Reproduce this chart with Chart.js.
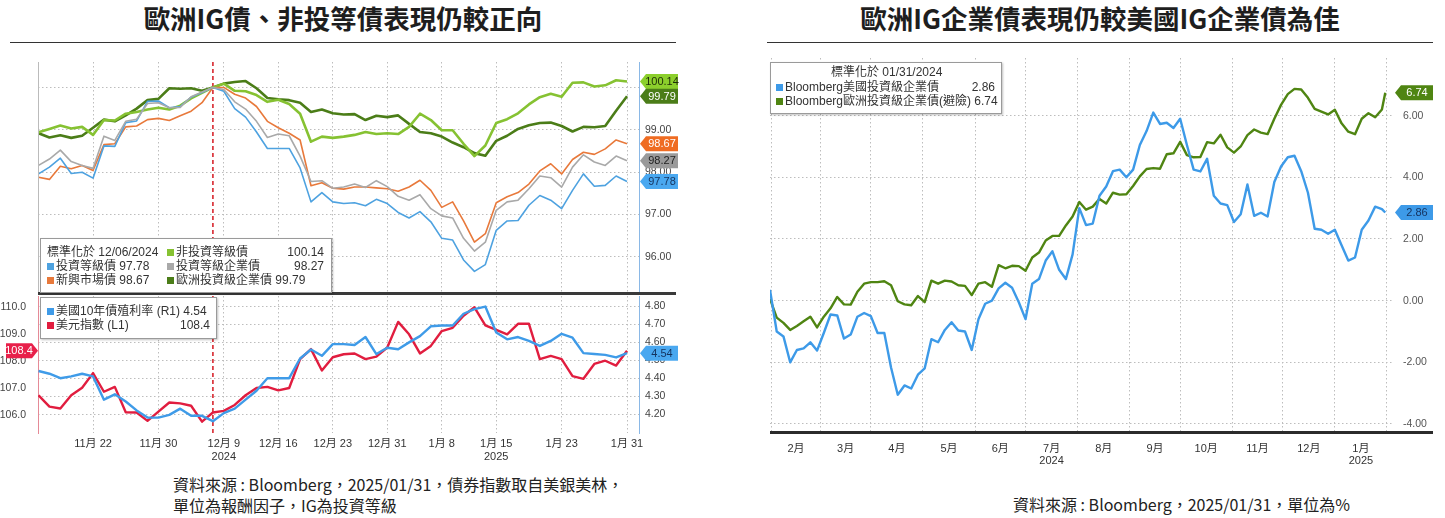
<!DOCTYPE html>
<html lang="zh-Hant">
<head>
<meta charset="utf-8">
<title>歐洲IG債表現</title>
<script src="https://cdn.jsdelivr.net/npm/chart.js@4.4.1/dist/chart.umd.min.js"></script>
<style>
  body { margin: 0; width: 1445px; height: 518px; background: #fff; position: relative; overflow: hidden;
         font-family: "Noto Sans CJK TC", "Noto Sans", sans-serif; color: #222; }
  .abs { position: absolute; }
  .title { top: 1px; font-size: 26.5px; font-weight: bold; text-align: center; line-height: 34px; color: #1e1e1e; }
  .rule { top: 42px; height: 1px; background: #333; }
  .note { font-size: 16px; line-height: 21px; white-space: nowrap; color: #222; }
  .legend { background: #fff; border: 1px solid #9a9a9a; box-shadow: 1px 1px 2px rgba(0,0,0,.25);
            font-family: "Liberation Sans", "Noto Sans CJK TC", sans-serif; font-size: 12px; color: #333; }
  .legend span { position: absolute; white-space: nowrap; line-height: 13px; }
  .sq { display: inline-block; width: 7px; height: 7px; margin-right: 2px; }
</style>
</head>
<body>
<div class="abs title" style="left:10px;width:666px">歐洲IG債、非投等債表現仍較正向</div>
<div class="abs rule" style="left:10px;width:666px"></div>
<div class="abs title" style="left:767px;width:666px">歐洲IG企業債表現仍較美國IG企業債為佳</div>
<div class="abs rule" style="left:767px;width:666px"></div>

<canvas id="cTop" class="abs" width="690" height="240" style="left:0;top:56px"></canvas>
<canvas id="cBottom" class="abs" width="690" height="170" style="left:0;top:295px"></canvas>
<canvas id="cRight" class="abs" width="685" height="415" style="left:760px;top:50px"></canvas>

<div class="abs" style="left:38px;top:62px;width:1px;height:231px;background:#bbb"></div>
<div class="abs" style="left:38px;top:292px;width:638px;height:3px;background:#3a3a3a"></div>
<div class="abs" style="left:770px;top:431px;width:663px;height:3px;background:#2b2b2b"></div>

<div id="lgTop" class="abs legend" style="left:40px;top:238px;width:290px;height:53px"></div>
<div id="lgBottom" class="abs legend" style="left:40px;top:297px;width:175px;height:40px"></div>
<div id="lgRight" class="abs legend" style="left:770px;top:62px;width:230px;height:50px"></div>

<div class="abs note" style="left:173px;top:474px">資料來源 : Bloomberg，2025/01/31，債券指數取自美銀美林，<br>單位為報酬因子，IG為投資等級</div>
<div class="abs note" style="left:1013px;top:494px">資料來源 : Bloomberg，2025/01/31，單位為%</div>

<script>
// ---------- left panel: business days 2024/11/14 – 2025/01/31 ----------
const leftDates = ['11/14','11/15','11/18','11/19','11/20','11/21','11/22','11/25','11/26','11/27','11/28','11/29',
  '12/02','12/03','12/04','12/05','12/06','12/09','12/10','12/11','12/12','12/13','12/16','12/17','12/18','12/19','12/20',
  '12/23','12/24','12/26','12/27','12/30','12/31','01/02','01/03','01/06','01/07','01/08','01/09','01/10',
  '01/13','01/14','01/15','01/16','01/17','01/20','01/21','01/22','01/23','01/24','01/27','01/28','01/29','01/30','01/31'];
const normDate = '12/06';

// normalised to 100 on 12/06/2024
const hyBond = [98.94,99.02,99.10,99.03,99.07,98.88,99.23,99.22,99.38,99.42,99.48,99.52,99.48,99.57,99.74,99.87,100.00,
  100.09,99.92,99.91,99.82,99.66,99.71,99.61,99.38,98.72,98.84,98.81,98.84,98.88,98.95,98.90,98.92,98.90,99.07,99.38,
  99.23,98.99,98.99,98.67,98.38,98.63,99.16,99.25,99.39,99.60,99.77,99.85,99.78,100.11,100.12,100.02,100.05,100.17,100.14];
const igBond = [97.96,98.12,98.33,97.97,98.00,97.86,98.62,98.61,99.17,99.21,99.67,99.68,99.52,99.55,99.77,99.88,100.00,
  99.91,99.50,99.30,98.95,98.56,98.56,98.56,98.10,97.30,97.52,97.30,97.26,97.28,97.21,97.36,97.26,97.05,96.92,97.07,
  96.83,96.44,96.40,95.93,95.66,95.82,96.63,96.85,96.86,97.22,97.45,97.34,97.14,97.57,97.96,97.67,97.69,97.91,97.78];
const igCorp = [98.16,98.31,98.52,98.25,98.16,98.09,98.85,98.75,99.20,99.25,99.62,99.64,99.52,99.53,99.78,99.89,100.00,
  99.95,99.66,99.49,99.20,98.82,98.90,98.86,98.38,97.78,97.80,97.62,97.65,97.72,97.64,97.80,97.66,97.43,97.34,97.47,
  97.14,96.97,96.92,96.44,96.14,96.35,97.10,97.30,97.34,97.61,97.91,97.87,97.65,98.12,98.41,98.24,98.16,98.38,98.27];
const emBond = [97.88,97.83,98.14,98.08,98.16,98.04,98.65,98.67,99.07,99.09,99.24,99.27,99.22,99.33,99.44,99.64,100.00,
  100.00,99.84,99.75,99.55,99.20,99.05,98.92,98.76,97.68,97.75,97.62,97.60,97.65,97.65,97.63,97.61,97.55,97.65,97.81,
  97.57,97.17,97.30,96.85,96.35,96.55,97.28,97.42,97.52,97.72,98.03,98.20,97.96,98.30,98.47,98.42,98.55,98.76,98.67];
const euIgCorp = [98.92,98.82,98.87,98.81,98.86,99.05,99.24,99.20,99.34,99.50,99.70,99.73,99.98,99.97,99.98,99.92,100.00,
  100.09,100.13,100.15,99.98,99.75,99.72,99.70,99.64,99.42,99.48,99.39,99.36,99.37,99.23,99.33,99.30,99.34,99.14,98.95,
  98.92,98.84,98.70,98.59,98.45,98.39,98.74,98.86,99.02,99.11,99.16,99.17,99.09,98.96,99.07,99.06,99.09,99.45,99.79];

// lower panel: US 10Y yield (R1, %) and dollar index (L1)
const ust10y = [4.44,4.425,4.40,4.41,4.425,4.41,4.28,4.31,4.27,4.22,4.18,4.18,4.195,4.23,4.19,4.19,4.16,4.205,4.23,4.28,
  4.33,4.40,4.40,4.40,4.51,4.56,4.525,4.59,4.59,4.585,4.63,4.535,4.57,4.562,4.60,4.635,4.69,4.694,4.694,4.76,
  4.786,4.80,4.655,4.617,4.63,4.608,4.58,4.608,4.648,4.626,4.54,4.535,4.53,4.516,4.54];
const dxy = [106.73,106.31,106.24,106.73,107.01,107.55,106.86,107.04,106.10,106.09,105.78,106.12,106.46,106.43,106.34,
  105.75,106.09,106.15,106.37,106.73,107.00,107.04,106.91,107.00,108.07,108.44,107.65,108.14,108.25,108.28,108.07,
  108.16,108.50,109.45,108.99,108.28,108.56,109.11,109.23,109.68,109.99,109.32,109.15,108.99,109.38,109.38,108.07,
  108.19,108.07,107.44,107.34,107.89,108.01,107.83,108.38];

const leftTickIdx = [5, 11, 17, 22, 27, 32, 37, 42, 48, 54];
const leftTickText = ['11月 22', '11月 30', ['12月 9', '2024'], '12月 16', '12月 23', '12月 31', '1月 8', ['1月 15', '2025'], '1月 23', '1月 31'];
const topTicks = [96, 97, 98, 99, 100];
const dxyTicks = [106, 107, 108, 109, 110];
const yieldTicks = [4.2, 4.3, 4.4, 4.5, 4.6, 4.7, 4.8];

// ---------- right panel: days since 2024/01/31, normalised to 0 on that date ----------
const rightDays = [0,4,8,12,16,20,24,28,32,36,40,44,48,52,56,60,64,68,72,76,80,84,88,92,96,100,104,108,112,116,120,
  124,128,132,136,140,144,148,152,156,160,164,168,172,176,180,184,188,192,196,200,204,208,212,216,220,224,228,232,
  236,240,244,248,252,256,260,264,268,272,276,280,284,288,292,296,300,304,308,312,316,320,324,328,332,336,340,344,
  348,352,356,360,364,366];
const usIgCorp = [0.35,-1.00,-1.16,-2.00,-1.60,-1.55,-1.35,-1.62,-1.05,-0.45,-0.48,-1.23,-1.10,-0.52,-0.40,-0.50,-1.05,
  -1.05,-2.17,-3.05,-2.75,-2.85,-2.40,-2.20,-1.25,-1.35,-0.95,-0.70,-0.97,-1.00,-1.60,-0.60,-0.10,0.00,0.40,0.58,0.42,
  -0.05,-0.60,0.55,0.70,1.30,1.60,1.00,0.70,1.50,3.00,2.45,2.50,3.40,3.70,4.20,4.25,4.00,4.25,5.05,5.50,6.10,5.73,
  5.77,5.60,5.90,5.05,4.25,4.19,4.60,3.40,3.15,3.10,2.55,2.80,3.77,2.75,2.85,2.73,3.85,4.35,4.65,4.70,4.20,3.50,2.33,
  2.30,2.17,2.30,1.80,1.30,1.40,2.30,2.60,3.05,2.97,2.86];
const euIgHedged = [0.06,-0.55,-0.72,-0.95,-0.82,-0.67,-0.52,-0.87,-0.52,-0.25,0.12,-0.12,-0.13,0.29,0.55,0.60,0.60,
  0.63,0.50,-0.02,-0.12,-0.15,0.15,-0.05,0.65,0.55,0.65,0.62,0.50,0.48,0.18,0.55,0.60,0.45,1.15,1.05,1.13,1.12,0.97,
  1.40,1.56,1.95,2.10,2.10,2.44,2.73,3.20,2.95,3.05,3.30,3.15,3.50,3.44,3.45,3.72,4.03,4.27,4.30,4.28,4.75,4.78,5.15,
  4.72,4.65,4.66,5.14,5.10,5.38,4.97,4.80,5.00,5.37,5.55,5.45,5.40,5.90,6.35,6.70,6.87,6.85,6.58,6.22,6.13,6.04,6.19,
  5.75,5.48,5.40,5.90,6.08,5.95,6.20,6.74];
const monthStarts = [1, 30, 60, 91, 122, 152, 183, 214, 244, 275, 305, 336, 367];
const monthText = ['2月', '3月', '4月', '5月', '6月', ['7月', '2024'], '8月', '9月', '10月', '11月', '12月', ['1月', '2025']];
const rightTicks = [-4, -2, 0, 2, 4, 6];

// ---------- styling ----------
const C = {
  lime: '#86c232', dark: '#4b7d18', orange: '#e8793b', gray: '#a9a9a9', blue: '#4ea2e0',
  yield: '#3f9be8', red: '#e11d3f', rBlue: '#3d9ae8', rGreen: '#4f8512'
};
const GRID = '#bdbdbd';
const FONT = '"Liberation Sans", "Noto Sans CJK TC", sans-serif';
const tickFont = { family: FONT, size: 11 };

const pts = vals => vals.map((v, i) => ({ x: i, y: v }));
const dayPts = vals => vals.map((v, i) => ({ x: rightDays[i], y: v }));
const fixTicks = list => scale => { scale.ticks = list.map(v => ({ value: v })); };
const last = arr => arr[arr.length - 1];

// fixed axis sizes, and no extra room for half tick labels so the plot areas line up
const pin = (w, h) => s => {
  if (w !== undefined) s.width = w;
  if (h !== undefined) s.height = h;
  s.paddingTop = s.paddingBottom = s.paddingLeft = s.paddingRight = 0;
};

function drawBadge(ctx, x, y, text, bg, fg, side, w) {
  const h = 15, tip = 6;
  const dir = side === 'left' ? -1 : 1;
  ctx.save();
  ctx.beginPath();
  ctx.moveTo(x, y);
  ctx.lineTo(x + dir * tip, y - h / 2);
  ctx.lineTo(x + dir * w, y - h / 2);
  ctx.lineTo(x + dir * w, y + h / 2);
  ctx.lineTo(x + dir * tip, y + h / 2);
  ctx.closePath();
  ctx.fillStyle = bg;
  ctx.fill();
  ctx.fillStyle = fg;
  ctx.font = '11px ' + FONT;
  ctx.textAlign = 'center';
  ctx.textBaseline = 'middle';
  ctx.fillText(text, x + dir * (tip + (w - tip) / 2), y + 0.5);
  ctx.restore();
}

// value tags at the axis, taken from the last point of each series
const badgePlugin = {
  id: 'badges',
  afterDraw(chart, args, opts) {
    (opts.items || []).forEach(b => {
      const ds = chart.data.datasets[b.ds];
      const v = last(ds.data).y;
      const y = chart.scales[ds.yAxisID || 'y'].getPixelForValue(v);
      const x = b.side === 'left' ? chart.chartArea.left : chart.chartArea.right + (b.gap || 1);
      drawBadge(chart.ctx, x, y, v.toFixed(b.digits), b.bg, b.fg, b.side, b.w || 38);
    });
  }
};

// red dashed line on the normalisation date
const normLine = {
  id: 'normLine',
  beforeDatasetsDraw(chart, args, opts) {
    if (opts.index === undefined) return;
    const x = chart.scales.x.getPixelForValue(opts.index);
    const { top, bottom } = chart.chartArea;
    const ctx = chart.ctx;
    ctx.save();
    ctx.strokeStyle = '#d7262e';
    ctx.lineWidth = 1.6;
    ctx.setLineDash([4, 3]);
    ctx.beginPath();
    ctx.moveTo(x, top);
    ctx.lineTo(x, bottom);
    ctx.stroke();
    ctx.restore();
  }
};

const base = {
  responsive: false,
  animation: false,
  events: [],
  elements: { point: { radius: 0 }, line: { tension: 0, borderJoinStyle: 'round' } },
  plugins: { legend: { display: false }, tooltip: { enabled: false } }
};

const normIdx = leftDates.indexOf(normDate);
const leftX = {
  type: 'linear', min: -0.05, max: 55.1,
  afterBuildTicks: fixTicks(leftTickIdx),
  grid: { color: GRID, drawTicks: false },
  border: { display: false, dash: [1.5, 2.5] }
};

// ---------- top-left: bond indices ----------
new Chart(document.getElementById('cTop'), {
  type: 'line',
  data: {
    datasets: [
      { label: '投資等級企業債', data: pts(igCorp), borderColor: C.gray, borderWidth: 1.6 },
      { label: '投資等級債', data: pts(igBond), borderColor: C.blue, borderWidth: 1.6 },
      { label: '新興市場債', data: pts(emBond), borderColor: C.orange, borderWidth: 1.6 },
      { label: '非投資等級債', data: pts(hyBond), borderColor: C.lime, borderWidth: 2.6 },
      { label: '歐洲投資級企業債', data: pts(euIgCorp), borderColor: C.dark, borderWidth: 2.6 }
    ]
  },
  options: {
    ...base,
    layout: { padding: { left: 38, top: 6, right: 0, bottom: 3 } },
    scales: {
      x: { ...leftX, ticks: { display: false }, afterFit: pin(undefined, 0) },
      y: {
        position: 'right', min: 95.15, max: 100.6,
        afterBuildTicks: fixTicks(topTicks),
        ticks: { font: { family: FONT, size: 10.5 }, color: '#444', padding: 6, callback: v => v.toFixed(2) },
        grid: { color: GRID, drawTicks: false },
        border: { color: '#8ab8e6', dash: [1.5, 2.5] },
        afterFit: pin(51)
      }
    },
    plugins: {
      ...base.plugins,
      normLine: { index: normIdx },
      badges: {
        items: [
          { ds: 3, bg: '#8ccf2c', fg: '#1e2e08', digits: 2 },
          { ds: 4, bg: '#4b7d18', fg: '#ffffff', digits: 2 },
          { ds: 2, bg: '#ef6c22', fg: '#ffffff', digits: 2 },
          { ds: 0, bg: '#9a9a9a', fg: '#222222', digits: 2 },
          { ds: 1, bg: '#4aa8f0', fg: '#15335e', digits: 2 }
        ]
      }
    }
  },
  plugins: [normLine, badgePlugin]
});

// ---------- bottom-left: yield and dollar index ----------
new Chart(document.getElementById('cBottom'), {
  type: 'line',
  data: {
    datasets: [
      { label: '美國10年債殖利率 (R1)', data: pts(ust10y), borderColor: C.yield, borderWidth: 2.4, yAxisID: 'yR' },
      { label: '美元指數 (L1)', data: pts(dxy), borderColor: C.red, borderWidth: 2.4, yAxisID: 'yL' }
    ]
  },
  options: {
    ...base,
    layout: { padding: { left: 0, top: 1, right: 0, bottom: 0 } },
    scales: {
      x: {
        ...leftX,
        ticks: {
          font: tickFont, color: '#333', padding: 4, maxRotation: 0, autoSkip: false,
          callback: (v, i) => leftTickText[i]
        },
        afterFit: pin(undefined, 32)
      },
      yL: {
        position: 'left', min: 105.33, max: 110.41,
        afterBuildTicks: fixTicks(dxyTicks),
        ticks: { font: { family: FONT, size: 10.5 }, color: '#444', padding: 4, callback: v => v.toFixed(1) },
        grid: { display: false },
        border: { color: '#e58a97' },
        afterFit: pin(38)
      },
      yR: {
        position: 'right', min: 4.094, max: 4.859,
        afterBuildTicks: fixTicks(yieldTicks),
        ticks: { font: { family: FONT, size: 10.5 }, color: '#444', padding: 6, callback: v => v.toFixed(2) },
        grid: { color: GRID, drawTicks: false },
        border: { color: '#8ab8e6', dash: [1.5, 2.5] },
        afterFit: pin(51)
      }
    },
    plugins: {
      ...base.plugins,
      normLine: { index: normIdx },
      badges: {
        items: [
          { ds: 0, bg: '#4aa8f0', fg: '#15335e', digits: 2 },
          { ds: 1, bg: '#e8204a', fg: '#ffffff', digits: 1, side: 'left', w: 32 }
        ]
      }
    }
  },
  plugins: [normLine, badgePlugin]
});

// ---------- right: US vs EU IG corporates ----------
const monthMids = monthStarts.slice(0, -1).map((d, i) => (d + monthStarts[i + 1]) / 2);
new Chart(document.getElementById('cRight'), {
  type: 'line',
  data: {
    datasets: [
      { label: 'Bloomberg美國投資級企業債', data: dayPts(usIgCorp), borderColor: C.rBlue, borderWidth: 2.4 },
      { label: 'Bloomberg歐洲投資級企業債(避險)', data: dayPts(euIgHedged), borderColor: C.rGreen, borderWidth: 2.4 }
    ]
  },
  options: {
    ...base,
    layout: { padding: { left: 10, top: 8, right: 0, bottom: 0 } },
    scales: {
      x: {
        type: 'linear', min: 0, max: 370,
        afterBuildTicks: fixTicks(monthStarts),
        ticks: { display: false },
        grid: { color: GRID, drawTicks: false },
        border: { display: false, dash: [1.5, 2.5] },
        afterFit: pin(undefined, 0)
      },
      xl: {
        type: 'linear', position: 'bottom', min: 0, max: 370,
        afterBuildTicks: fixTicks(monthMids),
        ticks: {
          font: { family: FONT, size: 11, lineHeight: 1.1 }, color: '#333', padding: 3,
          maxRotation: 0, autoSkip: false, callback: (v, i) => monthText[i]
        },
        grid: { display: false },
        border: { display: false },
        afterFit: pin(undefined, 33)
      },
      y: {
        position: 'right', min: -4.26, max: 7.87,
        afterBuildTicks: fixTicks(rightTicks),
        ticks: { font: { family: FONT, size: 10.5 }, color: '#555', padding: 11, callback: v => v.toFixed(2) },
        grid: { color: GRID, drawTicks: false },
        border: { display: false, dash: [1.5, 2.5] },
        afterFit: pin(53)
      }
    },
    plugins: {
      ...base.plugins,
      badges: {
        items: [
          { ds: 1, bg: '#4f8512', fg: '#ffffff', digits: 2, gap: 3 },
          { ds: 0, bg: '#3d9ae8', fg: '#15335e', digits: 2, gap: 3 }
        ]
      }
    }
  },
  plugins: [badgePlugin]
});

// ---------- legends (real text, values from the last points) ----------
function put(box, left, top, html, right) {
  const s = document.createElement('span');
  s.style.top = top + 'px';
  if (right) s.style.right = left + 'px'; else s.style.left = left + 'px';
  s.innerHTML = html;
  box.appendChild(s);
}
const sq = c => `<i class="sq" style="background:${c}"></i>`;

const lgTop = document.getElementById('lgTop');
put(lgTop, 6, 7, '標準化於 12/06/2024');
put(lgTop, 126, 7, sq(C.lime) + '非投資等級債');
put(lgTop, 7, 7, last(hyBond).toFixed(2), true);
put(lgTop, 6, 21, sq(C.blue) + '投資等級債 ' + last(igBond).toFixed(2));
put(lgTop, 126, 21, sq(C.gray) + '投資等級企業債');
put(lgTop, 7, 21, last(igCorp).toFixed(2), true);
put(lgTop, 6, 35, sq(C.orange) + '新興市場債 ' + last(emBond).toFixed(2));
put(lgTop, 126, 35, sq(C.dark) + '歐洲投資級企業債 ' + last(euIgCorp).toFixed(2));

const lgBottom = document.getElementById('lgBottom');
put(lgBottom, 6, 7, sq(C.yield) + '美國10年債殖利率 (R1) ' + last(ust10y).toFixed(2));
put(lgBottom, 6, 21, sq(C.red) + '美元指數 (L1)');
put(lgBottom, 6, 21, last(dxy).toFixed(1), true);

const lgRight = document.getElementById('lgRight');
put(lgRight, 60, 3, '標準化於 01/31/2024');
put(lgRight, 5, 18, sq(C.rBlue) + 'Bloomberg美國投資級企業債');
put(lgRight, 6, 18, last(usIgCorp).toFixed(2), true);
put(lgRight, 5, 32, sq(C.rGreen) + 'Bloomberg歐洲投資級企業債(避險) ' + last(euIgHedged).toFixed(2));
</script>
</body>
</html>
